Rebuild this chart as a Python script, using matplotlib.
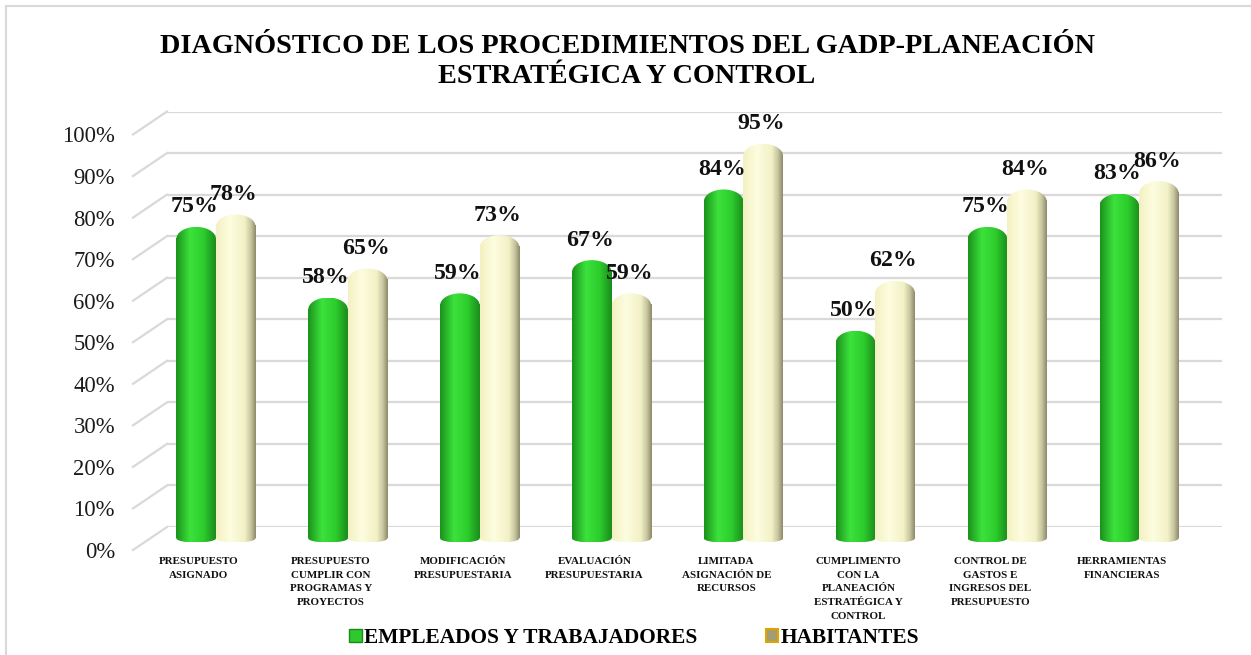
import numpy as np
import matplotlib
matplotlib.use("Agg")
import matplotlib.pyplot as plt
from matplotlib.patches import Ellipse, Rectangle, Patch
from matplotlib.lines import Line2D
from matplotlib.colors import LinearSegmentedColormap

categories = ["PRESUPUESTO\nASIGNADO",
              "PRESUPUESTO\nCUMPLIR CON\nPROGRAMAS Y\nPROYECTOS",
              "MODIFICACIÓN\nPRESUPUESTARIA",
              "EVALUACIÓN\nPRESUPUESTARIA",
              "LIMITADA\nASIGNACIÓN DE\nRECURSOS",
              "CUMPLIMENTO\nCON LA\nPLANEACIÓN\nESTRATÉGICA Y\nCONTROL",
              "CONTROL DE\nGASTOS E\nINGRESOS DEL\nPRESUPUESTO",
              "HERRAMIENTAS\nFINANCIERAS"]
empleados = [0.75, 0.58, 0.59, 0.67, 0.84, 0.50, 0.75, 0.83]
habitantes = [0.78, 0.65, 0.73, 0.59, 0.95, 0.62, 0.84, 0.86]
series_names = ["EMPLEADOS Y TRABAJADORES", "HABITANTES"]
yticks = np.arange(0, 1.01, 0.1)
ytick_labels = [f"{int(round(t*100))}%" for t in yticks]

W, H = 1251, 655
fig = plt.figure(figsize=(W/100, H/100), dpi=100)
SERIF = ["Liberation Serif", "DejaVu Serif"]

def pos(left_px, bottom_px_from_top, width_px, height_px):
    return [left_px / W, (H - bottom_px_from_top) / H, width_px / W, height_px / H]

plot_w, plot_h = 1055, 415.5
front_l, front_b = 133, 550
dx, dy = 34, 23
ext = 6  # extra pixels below mid axes for rounded bar bottoms

# chart border
fig.add_artist(Rectangle((6/W, -0.02), 1.2, 1 - 6/H + 0.02, transform=fig.transFigure,
                         fill=False, edgecolor="#d9d9d9", lw=1.5))

back = fig.add_axes(pos(front_l + dx, front_b - dy, plot_w, plot_h))
front = fig.add_axes(pos(front_l, front_b, plot_w, plot_h))
mid = fig.add_axes(pos(front_l + dx/2, front_b - dy/2 + ext, plot_w, plot_h + ext))
ylo = -ext / plot_h
for a in (back, front, mid):
    a.set_xlim(0, len(categories))
    a.set_ylim(0, 1)
    a.patch.set_visible(False)
    for s in a.spines.values():
        s.set_visible(False)
    a.set_xticks([])
    a.set_yticks([])
mid.set_ylim(ylo, 1)

# back wall gridlines
for t in yticks:
    back.axhline(t, color="#d9d9d9", lw=1.6, zorder=0)

# front tick labels
front.set_yticks(yticks)
front.set_yticklabels(ytick_labels, fontfamily=SERIF, fontsize=16.3, color="#1a1a1a")
front.tick_params(axis="y", length=0, pad=13)

# diagonal side-wall lines
fig.canvas.draw()
fw, fh = fig.bbox.width, fig.bbox.height
for t in yticks:
    p0 = front.transData.transform((0, t))
    p1 = back.transData.transform((0, t))
    fig.add_artist(Line2D([p0[0]/fw, p1[0]/fw], [p0[1]/fh, p1[1]/fh],
                          transform=fig.transFigure, color="#d9d9d9", lw=1.6, zorder=0))

# category labels at front plane
for i, c in enumerate(categories):
    front.text(i + 0.5, -0.016, c, ha="center", va="top", fontfamily=SERIF,
               fontsize=7.9, fontweight="bold", linespacing=1.7, color="#111111",
               transform=front.transData, clip_on=False)

green_cmap = LinearSegmentedColormap.from_list("g", [(0, "#1c921c"), (0.35, "#3ce23c"),
                                                     (0.7, "#2ccc2c"), (1, "#1c8c1c")])
cream_cmap = LinearSegmentedColormap.from_list("c", [(0, "#f3f1c2"), (0.35, "#fdfde0"),
                                                     (0.72, "#f3f1c6"), (0.88, "#c8c6a0"),
                                                     (1, "#8e8c6a")])
grad = np.linspace(0, 1, 64).reshape(1, -1)

bw = 0.30
cap = 12 / plot_h
bot = 4 / plot_h
offsets = [-bw/2, bw/2]
for s_idx, (vals, cmap) in enumerate([(empleados, green_cmap), (habitantes, cream_cmap)]):
    for i, v in enumerate(vals):
        xc = i + 0.5 + offsets[s_idx]
        x0, x1 = xc - bw/2, xc + bw/2
        z = 2 + s_idx
        body = mid.imshow(grad, cmap=cmap, extent=(x0, x1, 0, v - cap), aspect="auto",
                          zorder=z, interpolation="bilinear")
        eb = Ellipse((xc, 0), bw, 2*bot, transform=mid.transData)
        ib = mid.imshow(grad, cmap=cmap, extent=(x0, x1, -bot, bot), aspect="auto",
                        zorder=z, interpolation="bilinear")
        ib.set_clip_path(eb)
        et = Ellipse((xc, v - cap), bw, 2*cap, transform=mid.transData)
        it = mid.imshow(grad, cmap=cmap, extent=(x0, x1, v - cap, v), aspect="auto",
                        zorder=z, interpolation="bilinear")
        it.set_clip_path(et)
        mid.text(xc - 0.015, v + 20/plot_h, f"{int(round(v*100))}%", ha="center", va="center",
                 fontfamily=SERIF, fontsize=17.2, fontweight="bold", color="#111111", zorder=10)
mid.set_xlim(0, len(categories))
mid.set_ylim(ylo, 1)

# title
fig.text(627/W, 1 - 53/H, "DIAGNÓSTICO DE LOS PROCEDIMIENTOS DEL GADP-PLANEACIÓN",
         ha="center", va="baseline", fontfamily=SERIF, fontsize=20.3, fontweight="bold")
fig.text(627/W, 1 - 83/H, "ESTRATÉGICA Y CONTROL",
         ha="center", va="baseline", fontfamily=SERIF, fontsize=20.3, fontweight="bold")

# legend
handles = [Patch(facecolor="#2fc92f", edgecolor="#1a8a1a", lw=1),
           Patch(facecolor="#a39d74", edgecolor="#e0a400", lw=1.5)]
leg = fig.legend(handles, series_names, loc="center", bbox_to_anchor=(634/W, 1 - 638/H),
                 ncol=2, frameon=False, handlelength=0.6, handleheight=0.6,
                 handletextpad=0.1, columnspacing=3.2,
                 prop={"family": SERIF, "size": 15.4, "weight": "bold"})

fig.savefig("out.png", dpi=100)
